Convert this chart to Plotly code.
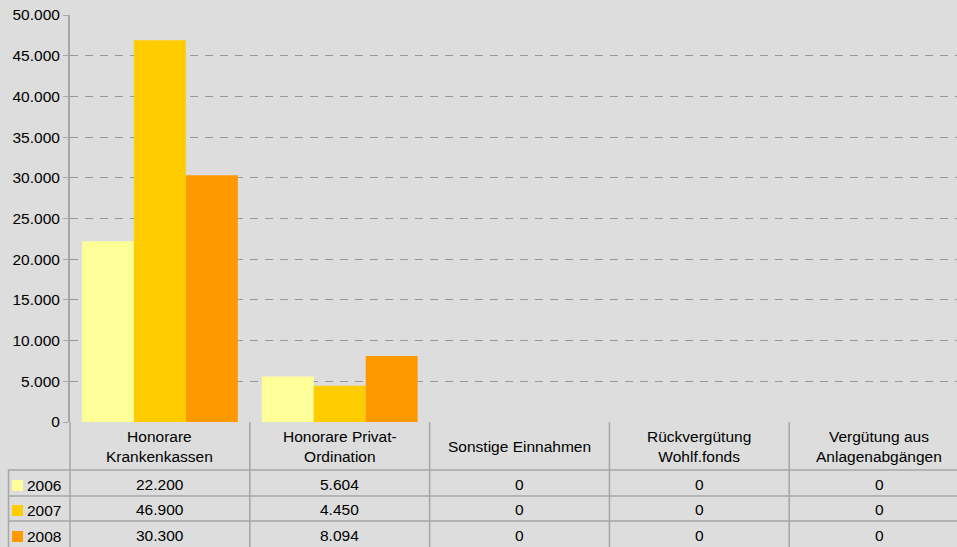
import plotly.graph_objects as go

categories = ["Honorare<br>Krankenkassen", "Honorare Privat-<br>Ordination", "Sonstige Einnahmen",
              "Rückvergütung<br>Wohlf.fonds", "Vergütung aus<br>Anlagenabgängen"]
years = ["2006", "2007", "2008"]
values_2006 = [22200, 5604, 0, 0, 0]
values_2007 = [46900, 4450, 0, 0, 0]
values_2008 = [30300, 8094, 0, 0, 0]
colors = ["#FFFF99", "#FFCC00", "#FF9900"]
y_ticks = [0, 5000, 10000, 15000, 20000, 25000, 30000, 35000, 40000, 45000, 50000]

series = [values_2006, values_2007, values_2008]

W, H = 957, 547
ml, mr, mt, mb = 70, 0, 15, 125
plot_h = H - mt - mb
plot_w = W - ml - mr
xr = [-0.5, 4.433]

def px_y(p):
    return -(p - (H - mb)) / plot_h

def px_x(p):
    return (p - ml) / plot_w

def dx(v):
    return (v - xr[0]) / (xr[1] - xr[0])

def fmt(v):
    return f"{v:,}".replace(",", ".")

xs = list(range(len(categories)))
fig = go.Figure()
for name, vals, c in zip(years, series, colors):
    fig.add_trace(go.Bar(x=xs, y=vals, name=name, marker=dict(color=c, line=dict(width=0)),
                         showlegend=False))

line_col = "#A6A6A6"
shapes = []
annos = []
bottom = px_y(H + 2)
for i in range(len(categories)):
    b = i - 0.5
    if b < xr[1]:
        shapes.append(dict(type="line", xref="paper", yref="paper", x0=dx(b), x1=dx(b),
                           y0=0, y1=bottom, line=dict(color=line_col, width=1.5)))
shapes.append(dict(type="line", xref="paper", yref="paper", x0=px_x(8.5), x1=px_x(8.5),
                   y0=px_y(470), y1=bottom, line=dict(color=line_col, width=1.5)))
for p in [470, 496, 521]:
    shapes.append(dict(type="line", xref="paper", yref="paper", x0=px_x(8), x1=1,
                       y0=px_y(p), y1=px_y(p), line=dict(color=line_col, width=1.5)))

font = dict(family="Liberation Sans, Arial, sans-serif", size=15.5, color="#000000")
for i, cat in enumerate(categories):
    annos.append(dict(x=dx(i), y=px_y(446), xref="paper", yref="paper", text=cat,
                      showarrow=False, font=font, align="center", xanchor="center",
                      yanchor="middle"))
row_centers = [484, 509, 535]
for r, (name, vals, c) in enumerate(zip(years, series, colors)):
    yc = row_centers[r]
    shapes.append(dict(type="rect", xref="paper", yref="paper", x0=px_x(12), x1=px_x(23),
                       y0=px_y(yc - 4), y1=px_y(yc + 7), fillcolor=c, line=dict(width=0)))
    annos.append(dict(x=px_x(25), y=px_y(yc + 1), xref="paper", yref="paper", text=name,
                      showarrow=False, font=font, xanchor="left", yanchor="middle"))
    for i, v in enumerate(vals):
        annos.append(dict(x=dx(i), y=px_y(yc), xref="paper", yref="paper", text=fmt(v),
                          showarrow=False, font=font, xanchor="center", yanchor="middle"))

fig.update_layout(
    width=W, height=H,
    margin=dict(l=ml, r=mr, t=mt, b=mb, pad=0),
    paper_bgcolor="#DDDDDD", plot_bgcolor="#DDDDDD",
    barmode="group", bargap=0.133, bargroupgap=0,
    separators=",.",
    font=font,
    shapes=shapes, annotations=annos,
    xaxis=dict(range=xr, showticklabels=False, showgrid=False, zeroline=False,
               showline=False, ticks=""),
    yaxis=dict(range=[0, 50000], tickvals=y_ticks, tickformat=",d", showgrid=True,
               gridcolor="#999999", griddash="8px,7px", gridwidth=1, zeroline=False,
               showline=True, linecolor=line_col, linewidth=2, ticks="outside",
               ticklen=5, tickcolor=line_col, tickfont=font),
)
fig.write_html("out.html", config={"displayModeBar": False},
               post_script="document.body.style.margin='0';document.body.style.padding='0';"
                           "document.body.style.overflow='hidden';"
                           "document.body.style.background='#DDDDDD';")
